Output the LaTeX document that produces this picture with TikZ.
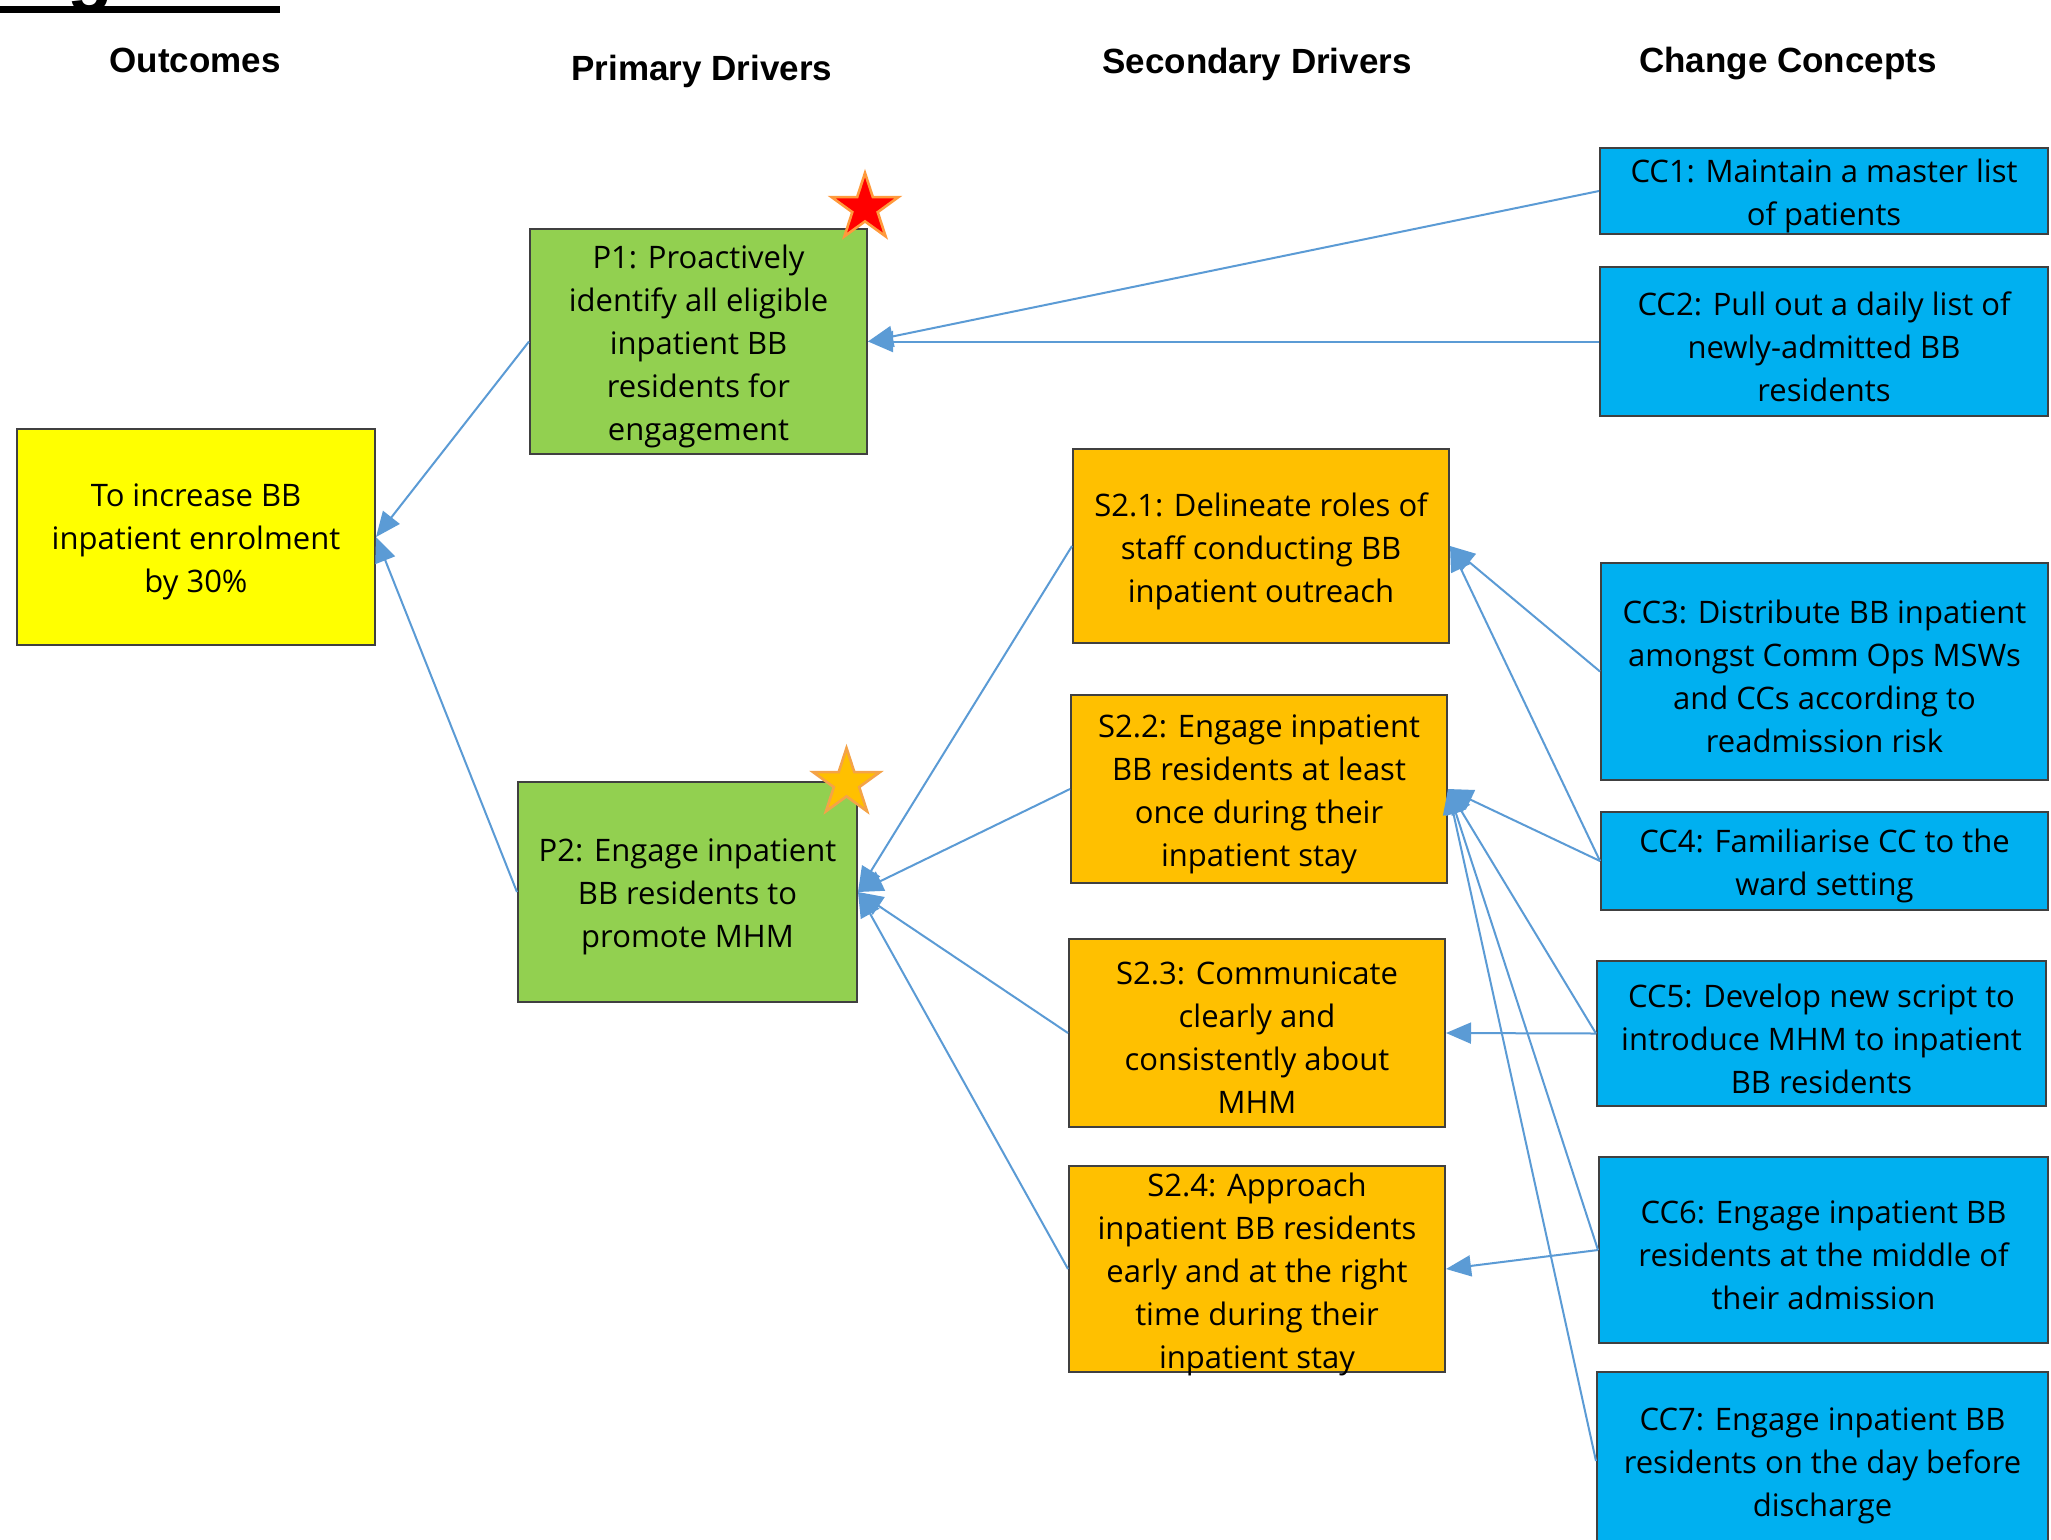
\documentclass[tikz,border=0pt]{standalone}
\usepackage{fontspec}
\setmainfont{Open Sans}
\newfontfamily\headfont{Liberation Sans}
\usetikzlibrary{arrows.meta,shapes.geometric}
\definecolor{boxgreen}{HTML}{92D050}
\definecolor{boxorange}{HTML}{FFC000}
\definecolor{boxblue}{HTML}{00B0F0}
\definecolor{boxyellow}{HTML}{FFFF00}
\definecolor{conn}{HTML}{5B9BD5}
\definecolor{edgegray}{HTML}{404040}
\definecolor{starrim}{HTML}{FF9A3C}
\definecolor{starrimb}{HTML}{F4A348}
\tikzset{
  box/.style={draw=edgegray, line width=1bp, rectangle, inner sep=0pt},
  txt/.style={align=center, inner sep=0pt, yshift=-2.5bp, font=\fontsize{15.5bp}{21.5bp}\selectfont},
  head/.style={anchor=base, font=\headfont\bfseries\fontsize{17.5bp}{20bp}\selectfont},
  link/.style={draw=conn, line width=1bp, -{Triangle[length=12.5bp,width=10.5bp]}},
  starshape/.style={star, star points=5, star point ratio=2.618, inner sep=0pt, line width=1.3bp}
}
\begin{document}
\begin{tikzpicture}[x=0.5bp,y=-0.5bp]
\useasboundingbox (0,0) rectangle (2051,1539);
\fill[white] (0,0) rectangle (2051,1539);

% title fragment at top edge
\node[anchor=base, inner sep=0pt, font=\headfont\bfseries\fontsize{37.5bp}{40bp}\selectfont] (titlefrag) at (90,-4) {g};
\fill[black] (0,6) rectangle (280,13);

% headers
\node[head] (hOut) at (195,72) {Outcomes};
\node[head] (hPri) at (702,80) {Primary Drivers};
\node[head] (hSec) at (1257,73) {Secondary Drivers};
\node[head] (hCC) at (1788,72) {Change Concepts};

% boxes
\node[box, fill=boxyellow, minimum width=179bp, minimum height=108bp,
  label={[txt]center:{To increase BB\\inpatient enrolment\\by 30\%}}] (Out) at (196,537) {};

\node[box, fill=boxgreen, minimum width=168.5bp, minimum height=112.5bp,
  label={[txt]center:{P1: Proactively\\identify all eligible\\inpatient BB\\residents for\\engagement}}] (P1) at (698.5,341.5) {};
\node[box, fill=boxgreen, minimum width=169.5bp, minimum height=110bp,
  label={[txt]center:{P2: Engage inpatient\\BB residents to\\promote MHM}}] (P2) at (687.5,892) {};

\node[box, fill=boxorange, minimum width=188bp, minimum height=97bp,
  label={[txt]center:{S2.1: Delineate roles of\\staff conducting BB\\inpatient outreach}}] (S21) at (1261,546) {};
\node[box, fill=boxorange, minimum width=188bp, minimum height=94bp,
  label={[txt]center:{S2.2: Engage inpatient\\BB residents at least\\once during their\\inpatient stay}}] (S22) at (1259,789) {};
\node[box, fill=boxorange, minimum width=188bp, minimum height=94bp,
  label={[txt]center:{S2.3: Communicate\\clearly and\\consistently about\\MHM}}] (S23) at (1257,1033) {};
\node[box, fill=boxorange, minimum width=188bp, minimum height=103bp,
  label={[txt]center:{S2.4: Approach\\inpatient BB residents\\early and at the right\\time during their\\inpatient stay}}] (S24) at (1257,1269) {};

\node[box, fill=boxblue, minimum width=224bp, minimum height=43bp,
  label={[txt]center:{CC1: Maintain a master list\\of patients}}] (CC1) at (1824,191) {};
\node[box, fill=boxblue, minimum width=224bp, minimum height=74.5bp,
  label={[txt]center:{CC2: Pull out a daily list of\\newly-admitted BB\\residents}}] (CC2) at (1824,341.5) {};
\node[box, fill=boxblue, minimum width=223.5bp, minimum height=108.5bp,
  label={[txt]center:{CC3: Distribute BB inpatient\\amongst Comm Ops MSWs\\and CCs according to\\readmission risk}}] (CC3) at (1824.5,671.5) {};
\node[box, fill=boxblue, minimum width=223.5bp, minimum height=49bp,
  label={[txt]center:{CC4: Familiarise CC to the\\ward setting}}] (CC4) at (1824.5,861) {};
\node[box, fill=boxblue, minimum width=224.5bp, minimum height=72.5bp,
  label={[txt]center:{CC5: Develop new script to\\introduce MHM to inpatient\\BB residents}}] (CC5) at (1821.5,1033.5) {};
\node[box, fill=boxblue, minimum width=224.5bp, minimum height=93bp,
  label={[txt]center:{CC6: Engage inpatient BB\\residents at the middle of\\their admission}}] (CC6) at (1823.5,1250) {};
\node[box, fill=boxblue, minimum width=225.5bp, minimum height=89bp,
  label={[txt]center:{CC7: Engage inpatient BB\\residents on the day before\\discharge}}] (CC7) at (1822.5,1461) {};

% connectors
\draw[link] (P1.west) -- (Out.east);
\draw[link] (P2.west) -- (Out.east);
\draw[link] (CC1.west) -- (P1.east);
\draw[link] (CC2.west) -- (P1.east);
\draw[link] (S21.west) -- (P2.east);
\draw[link] (S22.west) -- (P2.east);
\draw[link] (S23.west) -- (P2.east);
\draw[link] (S24.west) -- (P2.east);
\draw[link] (CC3.west) -- (S21.east);
\draw[link] (CC4.west) -- (S21.east);
\draw[link] (CC4.west) -- (S22.east);
\draw[link] (CC5.west) -- (S22.east);
\draw[link] (CC6.west) -- (S22.east);
\draw[link] (CC7.west) -- (S22.east);
\draw[link] (CC5.west) -- (S23.east);
\draw[link] (CC6.west) -- (S24.east);

% stars
\node[starshape, draw=starrim, fill=red, minimum size=35bp] (star1) at (865,208) {};
\node[starshape, draw=starrimb, fill=boxorange, minimum size=35bp] (star2) at (846.5,783) {};
\end{tikzpicture}
\end{document}
